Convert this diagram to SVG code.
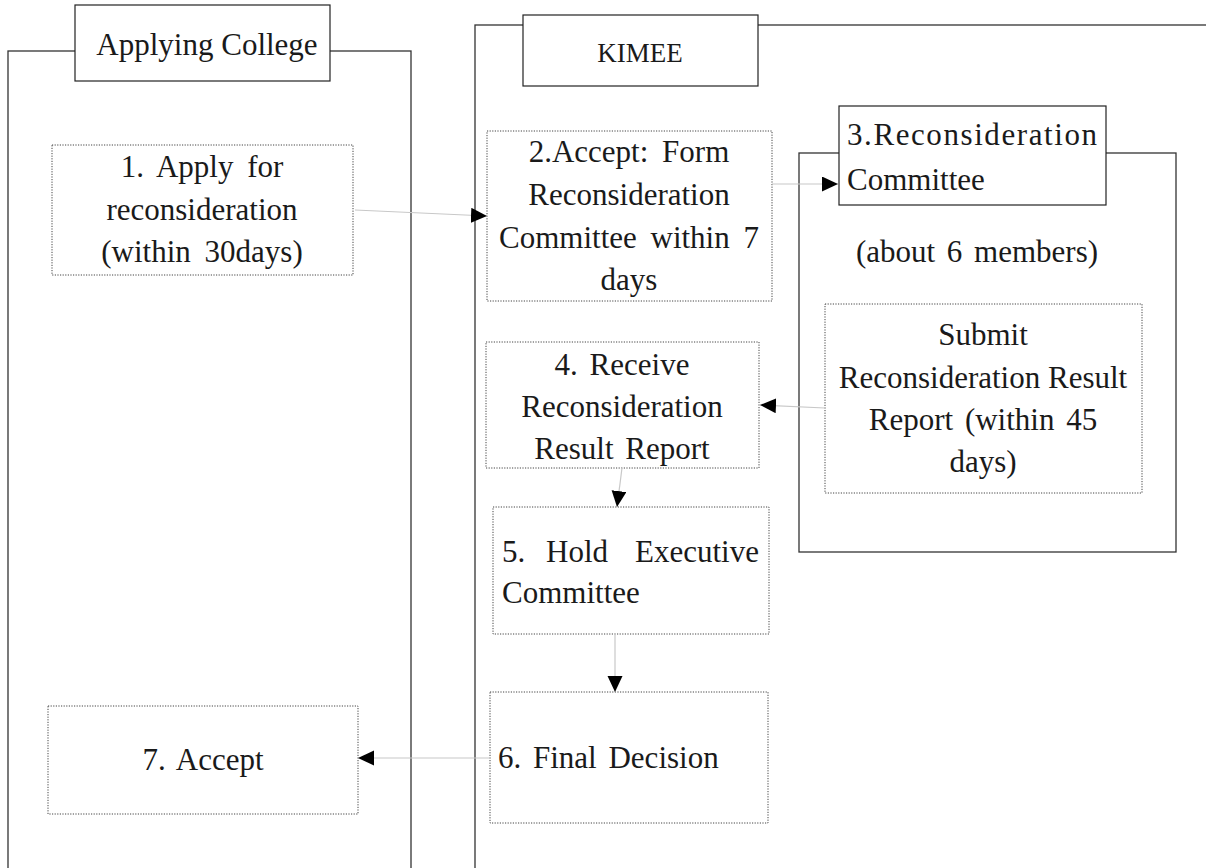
<svg xmlns="http://www.w3.org/2000/svg" width="1206" height="868" viewBox="0 0 1206 868">
<defs>
<style>
.lane{fill:none;stroke:#333;stroke-width:1.3}
.title{fill:#fff;stroke:#222;stroke-width:1.2}
.node{fill:#fff;stroke:#444;stroke-width:1;stroke-dasharray:1.2 1.4}
.t{font-family:"Liberation Serif","DejaVu Serif",serif;font-size:31px;fill:#1a1a1a}
.m{text-anchor:middle}
.conn{fill:none;stroke:#c8c8c8;stroke-width:1.2}
</style>
<marker id="ah" markerUnits="userSpaceOnUse" markerWidth="17" markerHeight="16" refX="16" refY="7.5" orient="auto">
<path d="M0,0 L16,7.5 L0,15 z" fill="#000"/>
</marker>
</defs>
<rect width="1206" height="868" fill="#fff"/>

<g id="lane-applying-college">
<rect class="lane" x="8" y="51" width="403" height="840"/>
<rect class="title" x="75" y="5" width="255" height="76"/>
<text class="t m" x="207" y="55">Applying College</text>
</g>

<g id="lane-kimee">
<rect class="lane" x="475" y="25" width="800" height="900"/>
<rect class="title" x="523" y="15" width="235" height="71"/>
<text class="t m" x="640" y="62" style="font-size:27px">KIMEE</text>
</g>

<g id="lane-committee">
<rect class="lane" x="799" y="153" width="377" height="399"/>
<rect class="title" x="839" y="106" width="267" height="99"/>
<text class="t" x="847" y="145" textLength="250" lengthAdjust="spacing">3.Reconsideration</text>
<text class="t" x="847" y="190">Committee</text>
<text class="t m" x="977" y="262" word-spacing="4">(about 6 members)</text>
</g>

<g id="node1">
<rect class="node" x="52" y="145" width="301" height="130"/>
<text class="t m" x="202" y="177" word-spacing="6">1. Apply for</text>
<text class="t m" x="202" y="220">reconsideration</text>
<text class="t m" x="202" y="262" word-spacing="6">(within 30days)</text>
</g>

<g id="node2">
<rect class="node" x="487" y="131" width="285" height="170"/>
<text class="t m" x="629" y="162" word-spacing="6">2.Accept: Form</text>
<text class="t m" x="629" y="205">Reconsideration</text>
<text class="t m" x="629" y="248" word-spacing="6">Committee within 7</text>
<text class="t m" x="629" y="290">days</text>
</g>

<g id="node-submit">
<rect class="node" x="825" y="304" width="317" height="189"/>
<text class="t m" x="983" y="345">Submit</text>
<text class="t m" x="983" y="388">Reconsideration Result</text>
<text class="t m" x="983" y="430" word-spacing="4">Report (within 45</text>
<text class="t m" x="983" y="472">days)</text>
</g>

<g id="node4">
<rect class="node" x="486" y="342" width="273" height="126"/>
<text class="t m" x="622" y="375" word-spacing="4">4. Receive</text>
<text class="t m" x="622" y="417">Reconsideration</text>
<text class="t m" x="622" y="459" word-spacing="4">Result Report</text>
</g>

<g id="node5">
<rect class="node" x="493" y="507" width="276" height="127"/>
<text class="t" x="502" y="562">5.</text>
<text class="t" x="546" y="562">Hold</text>
<text class="t" x="759" y="562" text-anchor="end">Executive</text>
<text class="t" x="502" y="603">Committee</text>
</g>

<g id="node6">
<rect class="node" x="490" y="692" width="278" height="131"/>
<text class="t" x="498" y="768" word-spacing="4">6. Final Decision</text>
</g>

<g id="node7">
<rect class="node" x="48" y="706" width="310" height="108"/>
<text class="t m" x="203" y="770" word-spacing="4">7. Accept</text>
</g>

<g id="connectors">
<path class="conn" d="M355 210 L487 216" marker-end="url(#ah)"/>
<path class="conn" d="M772 184 L838 184" marker-end="url(#ah)"/>
<path class="conn" d="M825 408 L760 405" marker-end="url(#ah)"/>
<path class="conn" d="M622 468 L617 507" marker-end="url(#ah)"/>
<path class="conn" d="M615 634 L615 692" marker-end="url(#ah)"/>
<path class="conn" d="M490 758 L358 758" marker-end="url(#ah)"/>
</g>
</svg>
